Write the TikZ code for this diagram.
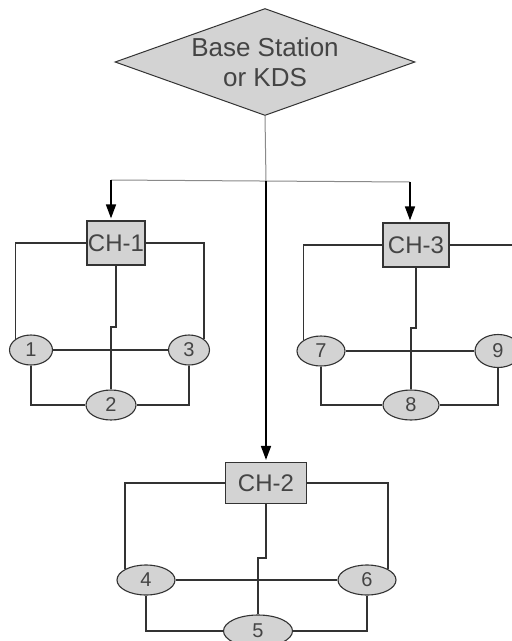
\documentclass[tikz,border=0pt]{standalone}
\usepackage{fontspec}
\setmainfont{Liberation Sans}
\usepackage{xcolor}
\usepackage{tikz}
\usetikzlibrary{shapes.geometric,arrows.meta,calc}
\definecolor{NodeGray}{HTML}{D3D3D3}
\definecolor{EdgeGray}{HTML}{333333}
\definecolor{TextGray}{HTML}{444444}
\definecolor{FeedGray}{HTML}{8A8A8A}

\begin{document}
\begin{tikzpicture}[x=1pt, y=-1pt,
    chbox/.style={draw=EdgeGray, fill=NodeGray, line width=1.2pt, inner sep=0pt,
      text=TextGray, font=\fontsize{24}{26}\selectfont},
    sensor/.style={ellipse, draw=EdgeGray, fill=NodeGray, line width=1.1pt, inner sep=0pt,
      minimum height=30pt, text=TextGray, font=\fontsize{20}{22}\selectfont},
    link/.style={draw=EdgeGray, line width=1.4pt},
    feed/.style={draw=FeedGray, line width=1pt},
    down/.style={-{Triangle[length=14pt,width=10pt]}, black, line width=1.6pt, shorten >=2pt}]
  \useasboundingbox[fill=white] (0,0) rectangle (512,641);
  \clip (0,0) rectangle (512,641);

  \node[diamond, aspect=2.8, draw=EdgeGray, fill=NodeGray, line width=1pt, inner sep=0pt,
        minimum width=300pt, minimum height=107pt, text=TextGray, align=center,
        font=\fontsize{26}{30}\selectfont] (bs) at (265,62) {Base Station\\or KDS};

  \node[chbox, minimum width=58pt, minimum height=44pt] (ch1) at (116,243) {CH-1};
  \node[chbox, minimum width=66pt, minimum height=44pt] (ch3) at (416,245) {CH-3};
  \node[chbox, minimum width=81pt, minimum height=41pt] (ch2) at (266,483) {CH-2};

  \node[sensor, minimum width=43pt] (n1) at (31,350) {1};
  \node[sensor, minimum width=50pt] (n2) at (111,405) {2};
  \node[sensor, minimum width=41pt] (n3) at (189,350) {3};
  \node[sensor, minimum width=58pt] (n4) at (146,580) {4};
  \node[sensor, minimum width=69pt, minimum height=32pt] (n5) at (258,631) {5};
  \node[sensor, minimum width=58pt] (n6) at (367,580) {6};
  \node[sensor, minimum width=48pt] (n7) at (321,351) {7};
  \node[sensor, minimum width=56pt] (n8) at (411,405) {8};
  \node[sensor, minimum width=46pt, minimum height=33pt] (n9) at (498,351) {9};

  \coordinate (split) at (266,181);
  \coordinate (lt) at (111,180);
  \coordinate (rt) at (410,182);
  \coordinate (j1) at (111,327);
  \coordinate (j3) at (411,328);
  \coordinate (j2) at (258,558);

  \draw[feed] (bs.south) -- (split);
  \draw[feed] (lt) -- (rt);
  \draw[down] (lt) -- (lt |- ch1.north);
  \draw[down] (rt) -- (rt |- ch3.north);
  \draw[down] (split) -- (ch2.north);

  \draw[link] (ch1.west) -| (n1.north west);
  \draw[link] (ch1.east) -| (n3.north east);
  \draw[link] (ch1.south) |- (j1) -- (n2.north);
  \draw[link] (n1.east) -- (n3.west);
  \draw[link] (n1.south) |- (n2.west);
  \draw[link] (n3.south) |- (n2.east);

  \draw[link] (ch3.west) -| (n7.north west);
  \draw[link] (ch3.east) -| (n9.north east);
  \draw[link] (ch3.south) |- (j3) -- (n8.north);
  \draw[link] (n7.east) -- (n9.west);
  \draw[link] (n7.south) |- (n8.west);
  \draw[link] (n9.south) |- (n8.east);

  \draw[link] (ch2.west) -| (n4.north west);
  \draw[link] (ch2.east) -| (n6.north east);
  \draw[link] (ch2.south) |- (j2) -- (n5.north);
  \draw[link] (n4.east) -- (n6.west);
  \draw[link] (n4.south) |- (n5.west);
  \draw[link] (n6.south) |- (n5.east);
\end{tikzpicture}
\end{document}
